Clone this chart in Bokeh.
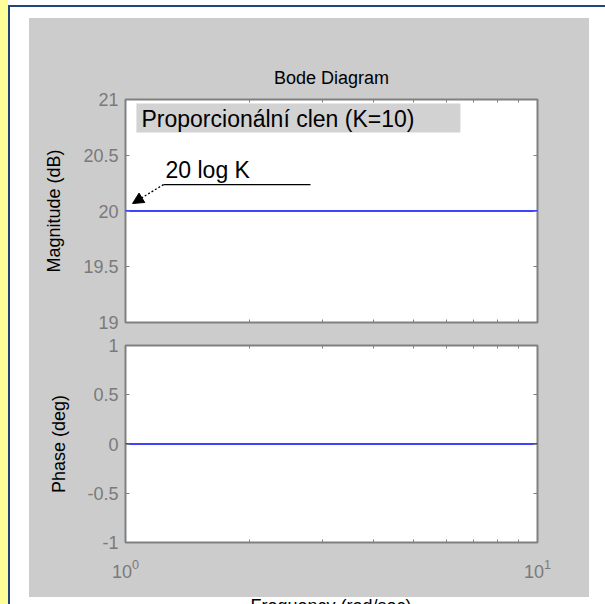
from bokeh.plotting import figure
from bokeh.models import (LogAxis, LinearAxis, FixedTicker, Label, Arrow, NormalHead,
                          BoxAnnotation, Div, LogTickFormatter)
from bokeh.layouts import row, column
from bokeh.embed import file_html
from bokeh.resources import INLINE

# ---- data ----
frequency = [1.0, 10.0]            # rad/sec
magnitude_db = [20.0, 20.0]        # 20 log K, K = 10
phase_deg = [0.0, 0.0]
freq_major_ticks = [1, 10]
freq_minor_ticks = [2, 3, 4, 5, 6, 7, 8, 9]
mag_ticks = [19, 19.5, 20, 20.5, 21]
mag_tick_labels = ["19", "19.5", "20", "20.5", "21"]
phase_ticks = [-1, -0.5, 0, 0.5, 1]
phase_tick_labels = ["-1", "-0.5", "0", "0.5", "1"]

FONT = "Liberation Sans"
GRAY = "#cccccc"
EDGE = "#808080"
TICKLBL = "#7a7a7a"


def style_axis(ax, show_labels):
    ax.axis_line_color = None
    ax.major_tick_in = 4
    ax.major_tick_out = 0
    ax.minor_tick_in = 3
    ax.minor_tick_out = 0
    ax.major_tick_line_color = EDGE
    ax.minor_tick_line_color = EDGE
    ax.major_label_text_font = FONT
    if show_labels:
        ax.major_label_text_font_size = "18px"
        ax.major_label_text_color = TICKLBL
    else:
        ax.major_label_text_font_size = "0px"
        ax.major_label_text_color = None
    ax.axis_label_text_font = FONT
    ax.axis_label_text_font_size = "18px"
    ax.axis_label_text_font_style = "normal"
    ax.axis_label_text_color = "black"


def make_fig(height, top, bottom, y_range, title=None):
    p = figure(width=560, height=height, x_axis_type="log", x_range=(1, 10), y_range=y_range,
               output_backend="svg", toolbar_location=None,
               min_border_left=96, min_border_right=52, min_border_top=top, min_border_bottom=bottom,
               background_fill_color="white", border_fill_color=GRAY,
               outline_line_color=EDGE, outline_line_width=2, title=title)
    p.grid.visible = False
    return p


# ---- magnitude plot ----
p1 = make_fig(315, 81, 11, (19, 21), title="Bode Diagram")
p1.title.align = "center"
p1.title.text_font = FONT
p1.title.text_font_size = "18px"
p1.title.text_font_style = "normal"
p1.title.text_color = "black"
p1.title.standoff = 24

p1.xaxis[0].ticker = FixedTicker(ticks=freq_major_ticks, minor_ticks=freq_minor_ticks)
style_axis(p1.xaxis[0], False)
p1.yaxis[0].ticker = FixedTicker(ticks=mag_ticks)
p1.yaxis[0].major_label_overrides = {t: s for t, s in zip(mag_ticks, mag_tick_labels)}
p1.yaxis[0].axis_label = "Magnitude (dB)"
p1.yaxis[0].major_label_standoff = 7
p1.yaxis[0].axis_label_standoff = 16
style_axis(p1.yaxis[0], True)
ax = LogAxis(ticker=FixedTicker(ticks=freq_major_ticks, minor_ticks=freq_minor_ticks))
style_axis(ax, False)
p1.add_layout(ax, "above")
ax = LinearAxis(ticker=FixedTicker(ticks=mag_ticks))
style_axis(ax, False)
p1.add_layout(ax, "right")

p1.line(frequency, magnitude_db, line_color="#0000ff", line_width=1.6)

p1.add_layout(BoxAnnotation(left=1.063, right=6.50, bottom=20.704, top=20.964,
                            fill_color="#d2d2d2", fill_alpha=1.0, line_color=None))
p1.add_layout(Label(x=1.0935, y=20.821, text="Proporcionální clen (K=10)",
                    text_font=FONT, text_font_size="23px", text_color="black",
                    text_baseline="alphabetic"))
p1.add_layout(Label(x=1.2506, y=20.372, text="20 log K",
                    text_font=FONT, text_font_size="23px", text_color="black",
                    text_baseline="alphabetic"))
p1.add_layout(Arrow(x_start=1.2365, y_start=20.237, x_end=2.812, y_end=20.237,
                    start=None, end=None, line_color="black", line_width=1.3))
p1.add_layout(Arrow(x_start=1.2365, y_start=20.237, x_end=1.040, y_end=20.067,
                    line_color="black", line_width=1.3, line_dash="2 2",
                    end=NormalHead(size=11, fill_color="black", line_color="black", line_width=1)))

# ---- phase plot ----
p2 = make_fig(264, 12, 55, (-1, 1))
p2.xaxis[0].ticker = FixedTicker(ticks=freq_major_ticks, minor_ticks=freq_minor_ticks)
p2.xaxis[0].formatter = LogTickFormatter()
p2.xaxis[0].major_label_standoff = 16
style_axis(p2.xaxis[0], True)
p2.yaxis[0].ticker = FixedTicker(ticks=phase_ticks)
p2.yaxis[0].major_label_overrides = {t: s for t, s in zip(phase_ticks, phase_tick_labels)}
p2.yaxis[0].axis_label = "Phase (deg)"
p2.yaxis[0].major_label_standoff = 7
p2.yaxis[0].axis_label_standoff = 15
style_axis(p2.yaxis[0], True)
ax = LogAxis(ticker=FixedTicker(ticks=freq_major_ticks, minor_ticks=freq_minor_ticks))
style_axis(ax, False)
p2.add_layout(ax, "above")
ax = LinearAxis(ticker=FixedTicker(ticks=phase_ticks))
style_axis(ax, False)
p2.add_layout(ax, "right")

p2.line(frequency, phase_deg, line_color="#0000ff", line_width=1.6)

# ---- x label (cut off by the window, as in the reference) ----
freq_label = Div(
    text='<div style="position:relative; left:22px; top:-1px; width:560px; text-align:center; '
         'font-family:\'Liberation Sans\'; font-size:18px; line-height:20px; color:black; '
         'white-space:nowrap;">Frequency (rad/sec)</div>',
    width=560, height=7, margin=0, styles={"overflow": "hidden", "background-color": "white"})

yellow = Div(text="", width=8, height=604, margin=0, styles={"background-color": "#ffff99"})
blue_top = Div(text="", width=597, height=2, margin=(5, 0, 0, 0), styles={"background-color": "#24457c"})
blue_left = Div(text="", width=2, height=597, margin=0, styles={"background-color": "#24457c"})

plots = column(p1, p2, freq_label, margin=(11, 0, 0, 19), styles={"background-color": GRAY})
root = row(yellow, column(blue_top, row(blue_left, plots)))

open("out.html", "w").write(file_html(root, INLINE))
